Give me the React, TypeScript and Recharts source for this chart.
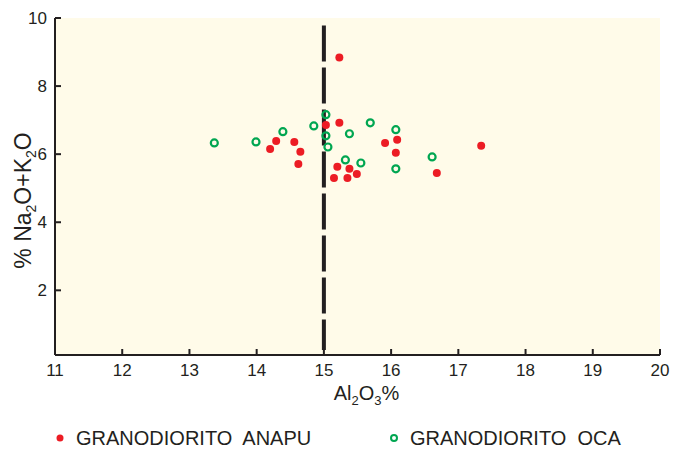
import React from "react";
import {
  ScatterChart,
  Scatter,
  XAxis,
  YAxis,
  CartesianGrid,
  ReferenceLine,
  Legend,
} from "recharts";

const FONT = "'Liberation Sans', Arial, sans-serif";
const INK = "#231f20";
const RED = "#ec1c24";
const GREEN = "#00a651";
const PAPER = "#fffbe9";

const X_TICKS = [11, 12, 13, 14, 15, 16, 17, 18, 19, 20];
const Y_TICKS = [2, 4, 6, 8, 10];

// Al2O3 % vs Na2O+K2O %
const anapuAl = [15.23, 15.23, 15.03, 14.29, 14.2, 14.56, 14.65, 14.62, 15.2, 15.38, 15.15, 15.35, 15.49, 15.91, 16.09, 16.07, 16.68, 17.34];
const anapuAlk = [8.84, 6.92, 6.86, 6.39, 6.15, 6.36, 6.07, 5.71, 5.63, 5.57, 5.3, 5.3, 5.42, 6.33, 6.42, 6.04, 5.45, 6.25];

const ocaAl = [13.37, 13.99, 14.39, 14.85, 15.03, 15.03, 15.06, 15.38, 15.32, 15.69, 15.55, 16.07, 16.07, 16.61];
const ocaAlk = [6.33, 6.36, 6.66, 6.83, 7.16, 6.54, 6.21, 6.6, 5.83, 6.92, 5.74, 6.72, 5.57, 5.92];

const anapu = anapuAl.map((al, i) => ({ al, alk: anapuAlk[i] }));
const oca = ocaAl.map((al, i) => ({ al, alk: ocaAlk[i] }));

// dividing line at 15 % Al2O3
const divider = [
  { x: 15, y: 9.78 },
  { x: 15, y: 0.25 },
];

const XTick = (props: any) => {
  const { x, y, payload } = props;
  return (
    <g>
      <line x1={x} y1={y} x2={x} y2={y - 6} stroke={INK} strokeWidth={2} />
      <text x={x} y={y + 21} textAnchor="middle" fontSize={17} fill={INK} fontFamily={FONT}>
        {payload.value}
      </text>
    </g>
  );
};

const YTick = (props: any) => {
  const { x, y, payload } = props;
  return (
    <g>
      <line x1={x} y1={y} x2={x + 6} y2={y} stroke={INK} strokeWidth={2} />
      <text x={x - 8} y={y + 6} textAnchor="end" fontSize={17} fill={INK} fontFamily={FONT}>
        {payload.value}
      </text>
    </g>
  );
};

const XLabel = (props: any) => {
  const { viewBox } = props;
  const cx = viewBox.x + viewBox.width / 2 + 9;
  const y = viewBox.y + 45;
  return (
    <text x={cx} y={y} textAnchor="middle" fontSize={20} fill={INK} fontFamily={FONT}>
      Al<tspan dy={5} fontSize={13}>2</tspan>
      <tspan dy={-5}>O</tspan>
      <tspan dy={5} fontSize={13}>3</tspan>
      <tspan dy={-5}>%</tspan>
    </text>
  );
};

const YLabel = (props: any) => {
  const { viewBox } = props;
  const x = 31;
  const cy = viewBox.y + viewBox.height / 2 + 14;
  return (
    <text
      x={x}
      y={cy}
      transform={`rotate(-90, ${x}, ${cy})`}
      textAnchor="middle"
      fontSize={23}
      fill={INK}
      fontFamily={FONT}
    >
      % Na<tspan dy={5} fontSize={14}>2</tspan>
      <tspan dy={-5}>O+K</tspan>
      <tspan dy={5} fontSize={14}>2</tspan>
      <tspan dy={-5}>O</tspan>
    </text>
  );
};

const Dot = (props: any) => <circle cx={props.cx} cy={props.cy} r={4} fill={RED} />;
const Ring = (props: any) => (
  <circle cx={props.cx} cy={props.cy} r={3.5} fill="none" stroke={GREEN} strokeWidth={2.2} />
);

const legendText = {
  fontSize: 20,
  fill: INK,
  fontFamily: FONT,
  whiteSpace: "pre" as const,
};

const renderLegend = () => (
  <svg width={684} height={30} style={{ display: "block" }}>
    <circle cx={60} cy={18} r={3.5} fill={RED} />
    <text x={76} y={25} style={legendText}>
      {"GRANODIORITO  ANAPU"}
    </text>
    <circle cx={394} cy={18} r={3} fill="none" stroke={GREEN} strokeWidth={2} />
    <text x={410} y={25} style={legendText}>
      {"GRANODIORITO  OCA"}
    </text>
  </svg>
);

export default function App() {
  return (
    <div style={{ position: "fixed", left: 0, top: 0, background: "#fff" }}>
      <ScatterChart width={684} height={450} margin={{ top: 18, right: 24, left: 0, bottom: 0 }}>
        <CartesianGrid horizontal={false} vertical={false} fill={PAPER} />
        <XAxis
          type="number"
          dataKey="al"
          domain={[11, 20]}
          ticks={X_TICKS}
          allowDataOverflow
          height={65}
          tickSize={0}
          tickMargin={0}
          tick={<XTick />}
          axisLine={{ stroke: INK, strokeWidth: 2 }}
          label={<XLabel />}
        />
        <YAxis
          type="number"
          dataKey="alk"
          domain={[0.1, 10]}
          ticks={Y_TICKS}
          allowDataOverflow
          width={55}
          tickSize={0}
          tickMargin={0}
          tick={<YTick />}
          axisLine={{ stroke: INK, strokeWidth: 2 }}
          label={<YLabel />}
        />
        <ReferenceLine
          segment={divider}
          stroke={INK}
          strokeWidth={4}
          strokeDasharray="36 6"
          ifOverflow="extendDomain"
        />
        <Scatter name="GRANODIORITO ANAPU" data={anapu} shape={<Dot />} isAnimationActive={false} />
        <Scatter name="GRANODIORITO OCA" data={oca} shape={<Ring />} isAnimationActive={false} />
        <Legend
          verticalAlign="bottom"
          content={renderLegend}
          wrapperStyle={{ left: 0, width: 684, height: 30 }}
        />
      </ScatterChart>
    </div>
  );
}
